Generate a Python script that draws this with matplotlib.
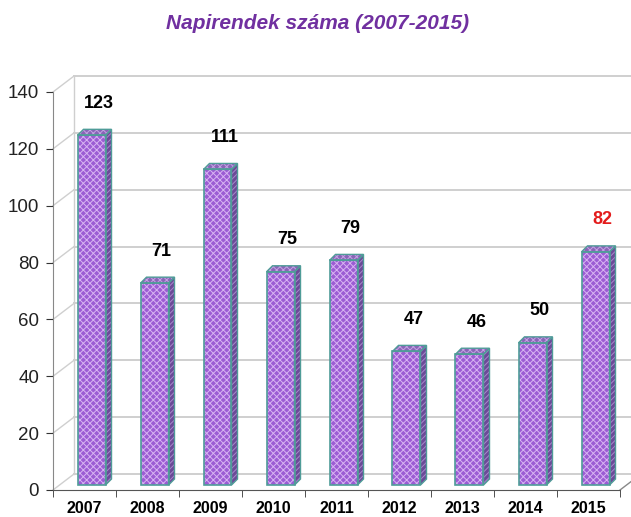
import matplotlib
matplotlib.use("Agg")
import matplotlib.pyplot as plt
from matplotlib.patches import Polygon

plt.rcParams['font.family'] = ['Liberation Sans', 'DejaVu Sans']
plt.rcParams['hatch.linewidth'] = 0.7

# adatok
evek = ['2007', '2008', '2009', '2010', '2011', '2012', '2013', '2014', '2015']
napirendek = [123, 71, 111, 75, 79, 47, 46, 50, 82]
cimke_szinek = ['black'] * 8 + ['#e31b1b']
y_ticks = [0, 20, 40, 60, 80, 100, 120, 140]

fig = plt.figure(figsize=(6.31, 5.17), dpi=100)
ax = fig.add_axes([53 / 631, 27 / 517, 567 / 631, 398 / 517])
ax.set_xlim(-0.5, len(evek) - 0.5)
ax.set_ylim(0, 140)

# pixel -> adat egyseg
px_x = len(evek) / 567
px_y = 140 / 398

# hatso fal (ál-3D)
wdx, wdy = 21 * px_x, 16 * px_y
x0, x1 = -0.5, len(evek) - 0.5
fal = '#cfcfcf'
for y in y_ticks:
    ax.plot([x0 + wdx, x1 + wdx + 1], [y + wdy, y + wdy], color=fal, lw=1.4, clip_on=False, zorder=1)
    ax.plot([x0, x0 + wdx], [y, y + wdy], color=fal, lw=1.0, clip_on=False, zorder=1)
ax.plot([x0 + wdx, x0 + wdx], [wdy, 140 + wdy], color=fal, lw=1.0, clip_on=False, zorder=1)
ax.plot([x1, x1 + wdx], [0, wdy], color='#888888', lw=1.0, clip_on=False, zorder=1)

# oszlopok
bdx, bdy = 7 * px_x, 5 * px_y     # eltolas a fal melyseg kozepere
ddx, ddy = 6 * px_x, 6 * px_y     # oszlop melysege
w = 28 * px_x
el = '#4f9c98'
for i, v in enumerate(napirendek):
    xl = i - w / 2 + bdx
    xr = i + w / 2 + bdx
    yb, yt = bdy, v + bdy
    oldal = [(xr, yb), (xr + ddx, yb + ddy), (xr + ddx, yt + ddy), (xr, yt)]
    teto = [(xl, yt), (xl + ddx, yt + ddy), (xr + ddx, yt + ddy), (xr, yt)]
    # oldal
    ax.add_patch(Polygon(oldal, facecolor='#6c4a98', edgecolor='#a888cc', hatch='//////',
                         lw=0, zorder=3, clip_on=False))
    ax.add_patch(Polygon(oldal, fill=False, edgecolor=el, lw=1.0, zorder=4, clip_on=False))
    # teteje
    ax.add_patch(Polygon(teto, facecolor='#8a64b8', edgecolor='#c4a4e4', hatch='xxxxx',
                         lw=0, zorder=3, clip_on=False))
    ax.add_patch(Polygon(teto, fill=False, edgecolor=el, lw=1.0, zorder=4, clip_on=False))
    # eleje
    ax.bar(i + bdx, v, width=w, bottom=yb, color='#9c5cd4', edgecolor='#d8b4f2',
           hatch='xxxxx', lw=0, zorder=3, clip_on=False)
    ax.bar(i + bdx, v, width=w, bottom=yb, fill=False, edgecolor=el, lw=1.2, zorder=4, clip_on=False)
    ax.text(i + 14 * px_x, v + 13, str(v), ha='center', va='center', fontsize=13,
            fontweight='bold', color=cimke_szinek[i], zorder=5)

# tengelyek
for s in ['top', 'right']:
    ax.spines[s].set_visible(False)
ax.spines['left'].set_color('#888888')
ax.spines['bottom'].set_color('#555555')
ax.set_yticks(y_ticks)
ax.tick_params(axis='y', labelsize=13.5, length=5, color='#333333', labelcolor='#222222', pad=5)
ax.set_xticks(range(len(evek)))
ax.set_xticklabels(evek, fontsize=11.5, fontweight='bold')
ax.set_xticks([i + 0.5 for i in range(-1, len(evek))], minor=True)
ax.tick_params(axis='x', which='major', length=0, pad=8)
ax.tick_params(axis='x', which='minor', length=5, color='#333333')

fig.text(0.503, 0.955, 'Napirendek száma (2007-2015)', ha='center', va='center',
         fontsize=15, fontweight='bold', fontstyle='italic', color='#7030a0')

fig.savefig('out.png', dpi=100)
